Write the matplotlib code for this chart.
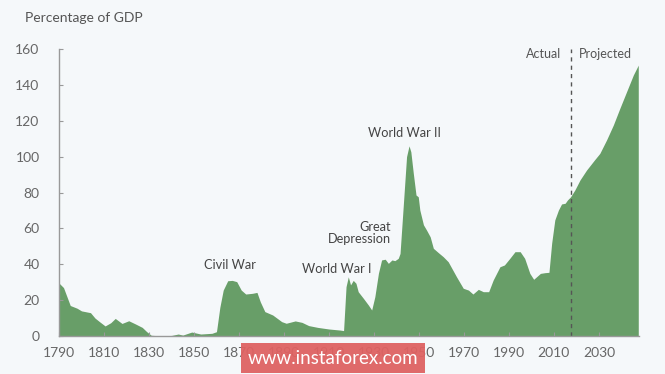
import matplotlib.pyplot as plt

# federal debt held by the public, % of GDP
years = [1790, 1792, 1795, 1798, 1800, 1802, 1804, 1806, 1808, 1810.5,
         1813, 1815, 1818, 1821, 1824, 1827, 1829, 1831, 1835, 1840,
         1843, 1845, 1849, 1853, 1858, 1860, 1861.5, 1863, 1865, 1867,
         1869, 1871, 1873, 1876, 1878, 1879.5, 1881.5, 1885, 1889, 1891,
         1895, 1898, 1901, 1905, 1910, 1915, 1916.5, 1917.6, 1918.6, 1919.6,
         1920.8, 1922, 1923, 1925.3, 1927.5, 1929, 1930.4, 1932, 1933.4, 1935,
         1936.4, 1938, 1939.3, 1940.8, 1941.6, 1943, 1944.5, 1945.6, 1946.4, 1947.5,
         1948.7, 1949.7, 1950.4, 1952, 1953.4, 1955, 1956.4, 1958.6, 1960.8, 1963,
         1966.7, 1969.7, 1972, 1974, 1976.4, 1978.6, 1981, 1983, 1986, 1988,
         1990.4, 1992.7, 1995, 1997, 1999.3, 2001, 2004, 2006, 2007.8, 2009,
         2010.4, 2012, 2013.4, 2015, 2016, 2017.4, 2019.3, 2021.6, 2024.5, 2028,
         2030.4, 2033.4, 2036.4, 2039.3, 2042.3, 2045.3, 2047.5]
debt = [29.5, 27, 17, 15.5, 14, 13.5, 13, 10, 8, 5.6,
        7.4, 9.8, 7, 8.5, 6.7, 4.8, 2.4, 0.4, 0.1, 0.3,
        1.1, 0.5, 2.2, 1.1, 1.5, 2.4, 16, 25.6, 30.8, 31,
        30.3, 25.6, 23.4, 23.8, 24.3, 19, 13.6, 11.7, 8, 7.1,
        8.4, 7.6, 5.8, 4.8, 3.9, 3.3, 3.0, 27.5, 33, 28.5,
        31, 29.4, 24.7, 21, 17.3, 14.5, 21.9, 35, 42.4, 42.8,
        40.5, 42.4, 42, 43.3, 46, 72, 100, 106, 102.7, 90.7,
        78.6, 77.6, 70.2, 62, 59, 55.3, 48.9, 46.5, 44.2, 41.4,
        33, 26.6, 25.6, 23.4, 26, 24.7, 24.7, 31.2, 38.6, 39.6,
        43.3, 47, 47, 43.3, 34.9, 31.6, 34.9, 35.3, 35.5, 51.7,
        64.7, 70.2, 73.6, 74, 75.8, 77.6, 81.4, 87, 92.5, 98.1,
        101.8, 109.3, 117.6, 126.9, 136.2, 145.5, 151]

split_year = 2017.4
x_ticks = list(range(1790, 2031, 20))
y_ticks = list(range(0, 161, 20))

events = [("Civil War", 1866, 36, "center"),
          ("World War I", 1913.5, 34, "center"),
          ("Great\nDepression", 1937.5, 51, "right"),
          ("World War II", 1943.5, 110, "center")]

plt.rcParams['font.family'] = ['Lato', 'DejaVu Sans']

fig = plt.figure(figsize=(6.65, 3.74), dpi=100, facecolor='#f5f8fa')
ax = fig.add_axes([59 / 665, 1 - 336 / 374, (638.5 - 59) / 665, (336 - 49) / 374])
ax.set_facecolor('none')

ax.fill_between(years, debt, 0, color='#689e68', linewidth=0)
ax.axvline(split_year, color='#555555', linestyle=(0, (3, 3)), linewidth=1)

ax.set_xlim(1790, 2047.6)
ax.set_ylim(0, 160)
ax.set_xticks(x_ticks)
ax.set_yticks(y_ticks)
ax.tick_params(direction='in', length=3, color='#999999', labelcolor='#666666',
               labelsize=10)
ax.tick_params(axis='y', pad=14)
ax.tick_params(axis='x', pad=8)
for s in ['top', 'right']:
    ax.spines[s].set_visible(False)
for s in ['left', 'bottom']:
    ax.spines[s].set_color('#999999')
    ax.spines[s].set_linewidth(1)

for text, yr, val, ha in events:
    ax.text(yr, val, text, ha=ha, va='bottom', fontsize=9.2, color='#444444',
            linespacing=1.0)

ax.text(split_year - 4, 157, "Actual", ha='right', va='center', fontsize=9, color='#555555')
ax.text(split_year + 3.5, 157, "Projected", ha='left', va='center', fontsize=9, color='#555555')

fig.text(25 / 665, 1 - 18 / 374, "Percentage of GDP", ha='left', va='center',
         fontsize=10, color='#555555')

# watermark box
fig.text(333 / 665, 1 - 358 / 374, "www.instaforex.com", ha='center', va='center',
         fontsize=13.5, color='white',
         bbox=dict(boxstyle='square,pad=0.35', facecolor='#de6262', edgecolor='none',
                   alpha=0.95))

fig.savefig('out.png', dpi=100, facecolor=fig.get_facecolor())
